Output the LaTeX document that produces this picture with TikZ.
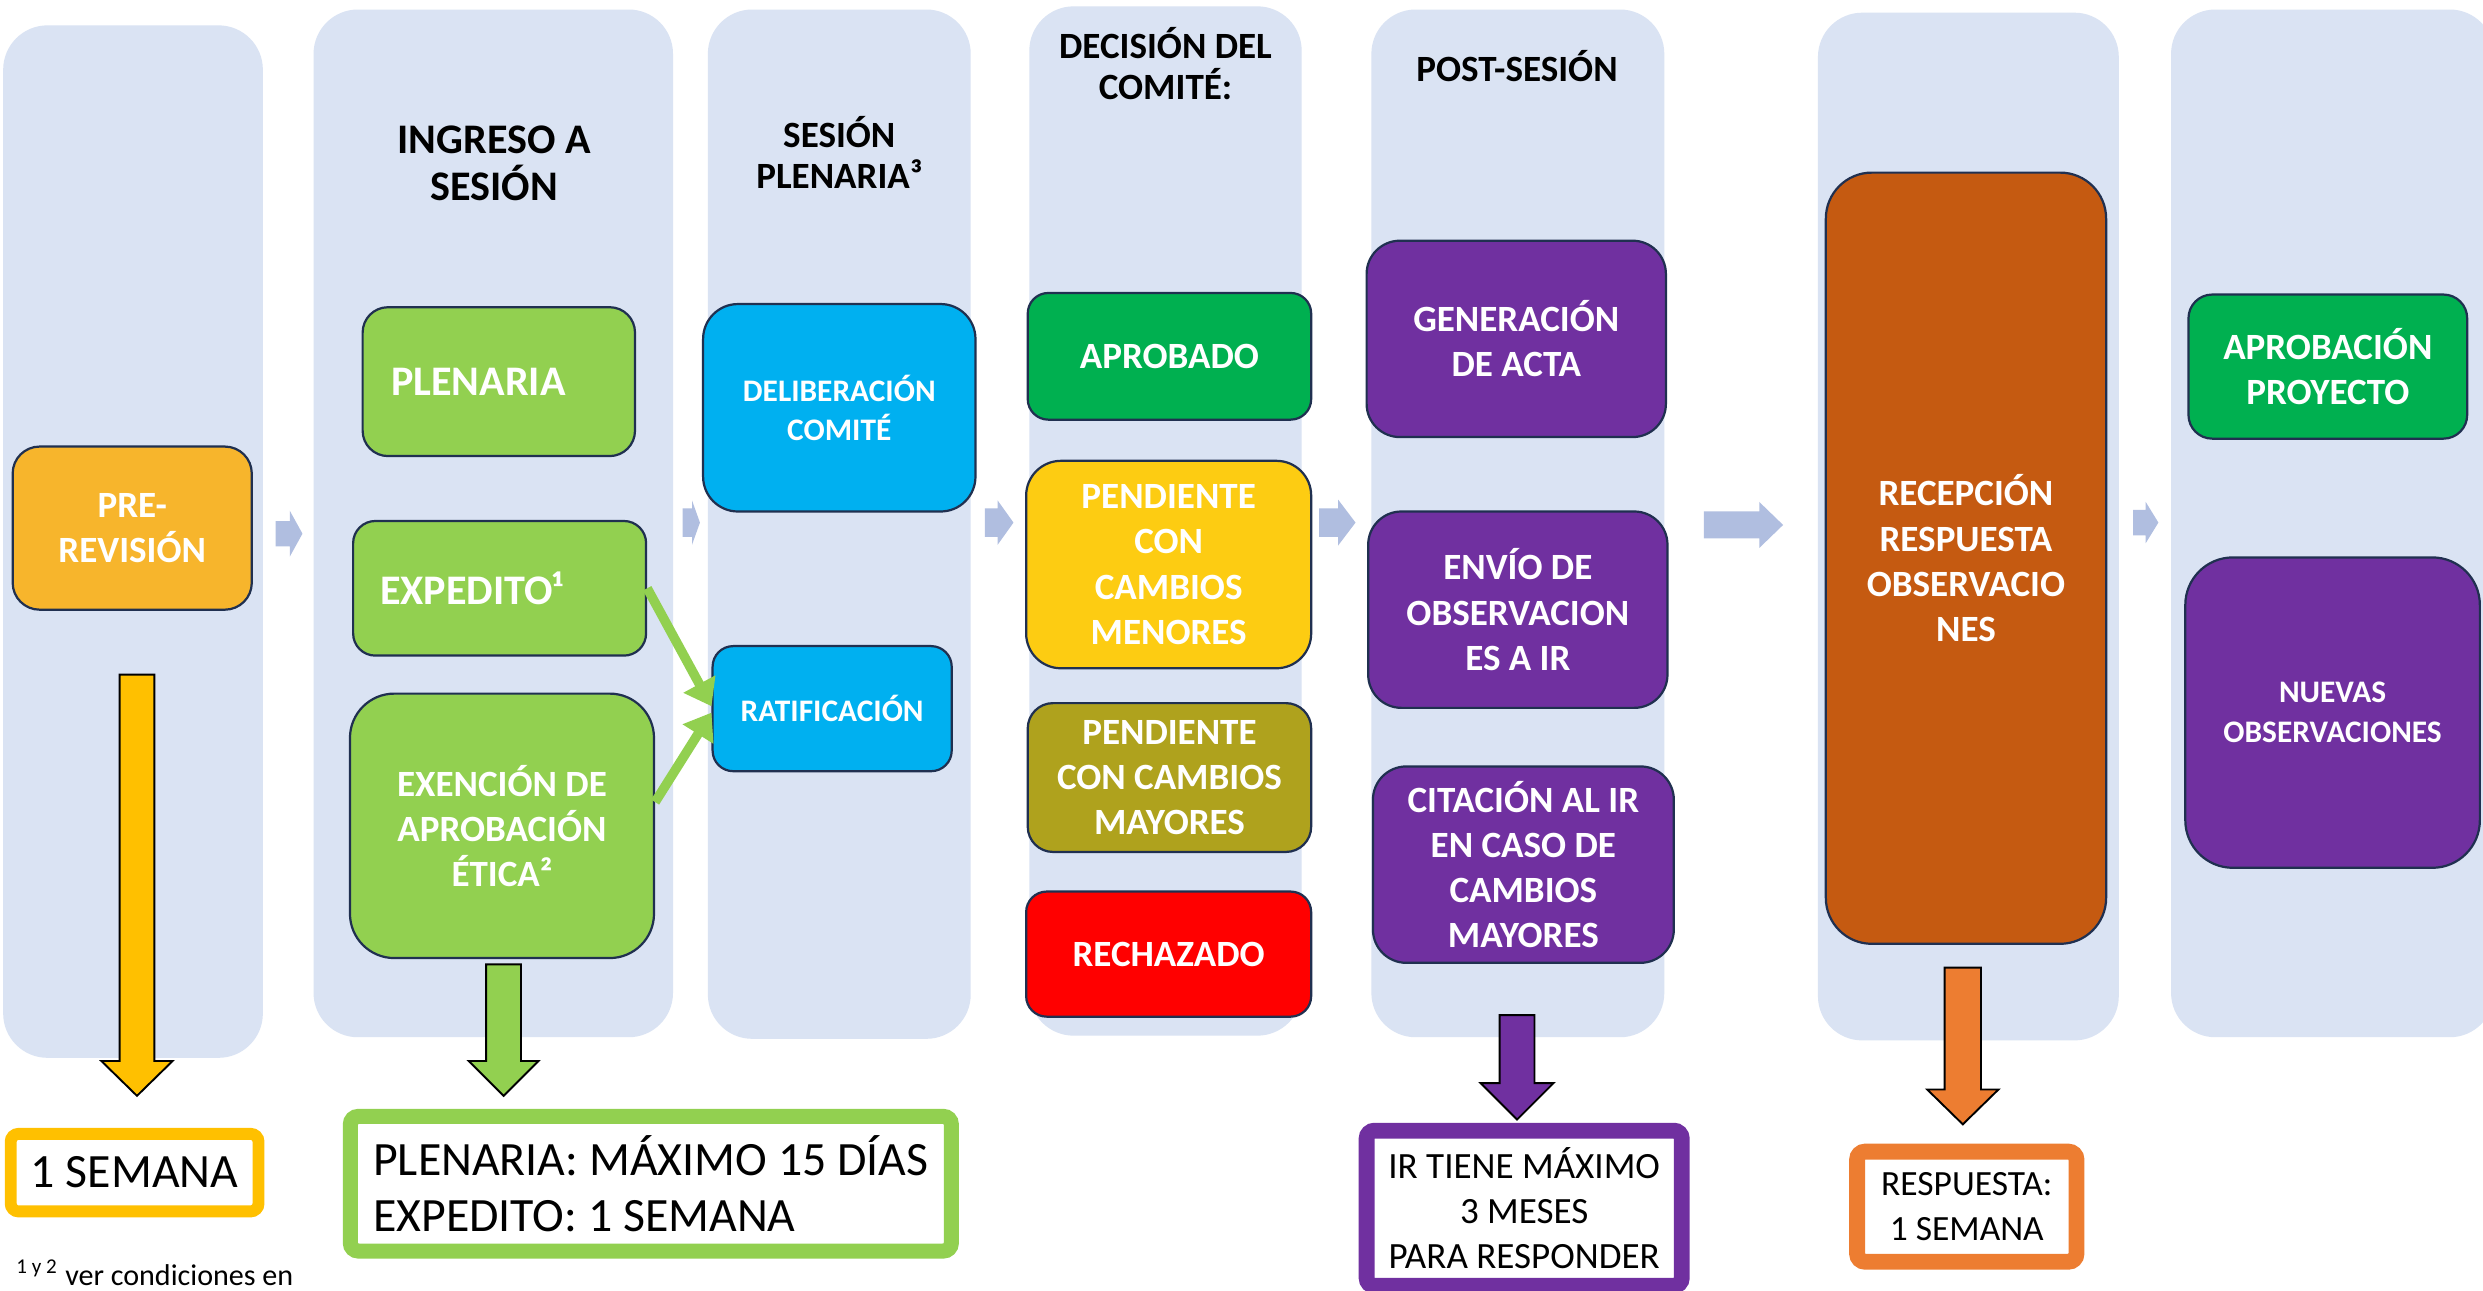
\documentclass[tikz,border=0pt]{standalone}
\usepackage{fontspec}
\setmainfont{Carlito}
\usetikzlibrary{arrows.meta}

\definecolor{laneblue}{HTML}{DAE3F3}
\definecolor{flowblue}{HTML}{B0BEE0}
\definecolor{edgeblue}{HTML}{203050}
\definecolor{preorange}{HTML}{F7B52C}
\definecolor{limegreen}{HTML}{92D050}
\definecolor{skyblue}{HTML}{00B0F0}
\definecolor{okgreen}{HTML}{00B050}
\definecolor{pendyellow}{HTML}{FDCC12}
\definecolor{olive}{HTML}{AFA21D}
\definecolor{alertred}{HTML}{FF0000}
\definecolor{violet}{HTML}{7030A0}
\definecolor{rust}{HTML}{C55A11}
\definecolor{gold}{HTML}{FFC000}
\definecolor{tangerine}{HTML}{ED7D31}

\tikzset{
  lane/.style={fill=laneblue, rounded corners=14pt, inner sep=0pt},
  lanetitle/.style={align=center, inner sep=0pt, font=\bfseries\fontsize{11.7}{13}\selectfont},
  stepbox/.style={draw=edgeblue, line width=0.7pt, rounded corners=8pt, inner sep=0pt,
    align=center, text=white, font=\bfseries\fontsize{11.7}{14.25}\selectfont},
  notebox/.style={fill=white, rounded corners=2.5pt, inner sep=0pt, align=center, text=black},
  flowarrow/.style={fill=flowblue},
  droparrow/.style={draw=black, line width=0.6pt},
  feed/.style={draw=limegreen, line width=3pt, -{Triangle[width=11pt,length=8pt]}}
}

\begin{document}
\frenchspacing
\begin{tikzpicture}[x=0.5pt, y=-0.5pt]
\path[use as bounding box, fill=white] (0,0) rectangle (1568,815);
\clip (0,0) rectangle (1568,815);

% columns
\node[lane, minimum width=82pt, minimum height=326pt] (lanepre) at (84,342) {};
\node[lane, minimum width=113.5pt, minimum height=324.5pt] (laneingreso) at (311.5,330.5) {};
\node[lane, minimum width=83pt, minimum height=325pt] (lanesesion) at (530,331) {};
\node[lane, minimum width=86pt, minimum height=325pt] (lanedecision) at (736,329) {};
\node[lane, minimum width=92.5pt, minimum height=324.5pt] (lanepost) at (958.5,330.5) {};
\node[lane, minimum width=95pt, minimum height=324.5pt] (lanerecep) at (1243,332.5) {};
\node[lane, minimum width=102pt, minimum height=324.5pt] (lanefinal) at (1473,330.5) {};

\node[lanetitle, font=\bfseries\fontsize{13.3}{15}\selectfont] (ttlingreso) at (312,103) {INGRESO A\\SESIÓN};
\node[lanetitle] (ttlsesion) at (530,96) {SESIÓN\\PLENARIA³};
\node[lanetitle] (ttldecision) at (736,40) {DECISIÓN DEL\\COMITÉ:};
\node[lanetitle] (ttlpost) at (958,42) {POST-SESIÓN};

% arrows between columns
\foreach \xa/\xb/\xc/\yc/\hs/\hh in {174/183/191/337/8/14.5, 431/437/442/330/9/14,
    622/630/640/330/9/14, 833/845/856/330/9/14.5, 1076/1111/1126/331.5/8.5/14.5,
    1347/1355/1363/330/8/13}
  \fill[flowarrow] (\xa,\yc-\hs) -- (\xb,\yc-\hs) -- (\xb,\yc-\hh) -- (\xc,\yc)
    -- (\xb,\yc+\hh) -- (\xb,\yc+\hs) -- (\xa,\yc+\hs) -- cycle;

% steps
\node[stepbox, fill=preorange, minimum width=75.5pt, minimum height=51.5pt, rounded corners=8.5pt] (prerev) at (83.5,333.5) {PRE-\\REVISIÓN};

\node[stepbox, fill=limegreen, minimum width=86pt, minimum height=47pt, text width=68pt, inner xsep=9pt, align=left,
  font=\bfseries\fontsize{13.3}{15}\selectfont] (plenaria) at (315,241) {PLENARIA};
\node[stepbox, fill=limegreen, minimum width=92.5pt, minimum height=42.5pt, text width=75.5pt, inner xsep=8.5pt, align=left,
  rounded corners=7pt, font=\bfseries\fontsize{13.3}{15}\selectfont] (expedito) at (315.5,371.5) {EXPEDITO¹};
\node[stepbox, fill=limegreen, minimum width=96pt, minimum height=83.5pt, rounded corners=14pt] (exencion) at (317,521.5) {EXENCIÓN DE\\APROBACIÓN\\ÉTICA²};

\node[stepbox, fill=skyblue, minimum width=86pt, minimum height=65.5pt, rounded corners=11pt,
  font=\bfseries\fontsize{9.9}{12.5}\selectfont] (deliberacion) at (530,257.5) {DELIBERACIÓN\\COMITÉ};
\node[stepbox, fill=skyblue, minimum width=75.5pt, minimum height=39.5pt, rounded corners=6.5pt,
  font=\bfseries\fontsize{9.9}{12.5}\selectfont] (ratificacion) at (525.5,447.5) {RATIFICACIÓN};

\node[stepbox, fill=okgreen, minimum width=89.5pt, minimum height=40pt, rounded corners=6.5pt] (aprobado) at (738.5,225) {APROBADO};
\node[stepbox, fill=pendyellow, minimum width=90pt, minimum height=65.5pt, rounded corners=11pt] (menores) at (738,356.5) {PENDIENTE\\CON\\CAMBIOS\\MENORES};
\node[stepbox, fill=olive, minimum width=89.5pt, minimum height=47pt] (mayores) at (738.5,491) {PENDIENTE\\CON CAMBIOS\\MAYORES};
\node[stepbox, fill=alertred, minimum width=90pt, minimum height=39.5pt, rounded corners=6.5pt] (rechazado) at (738,602.5) {RECHAZADO};

\node[stepbox, fill=violet, minimum width=94.5pt, minimum height=62pt, rounded corners=10.5pt] (acta) at (957.5,214) {GENERACIÓN\\DE ACTA};
\node[stepbox, fill=violet, minimum width=94.5pt, minimum height=62pt, rounded corners=10.5pt] (envio) at (958.5,385) {ENVÍO DE\\OBSERVACION\\ES A IR};
\node[stepbox, fill=violet, minimum width=95pt, minimum height=62pt, rounded corners=10.5pt] (citacion) at (962,546) {CITACIÓN AL IR\\EN CASO DE\\CAMBIOS\\MAYORES};

\node[stepbox, fill=rust, minimum width=88.5pt, minimum height=243.5pt, rounded corners=14.5pt] (recepcion) at (1241.5,352.5) {RECEPCIÓN\\RESPUESTA\\OBSERVACIO\\NES};

\node[stepbox, fill=okgreen, minimum width=88pt, minimum height=45.5pt, rounded corners=7.5pt] (aprobproy) at (1470,231.5) {APROBACIÓN\\PROYECTO};
\node[stepbox, fill=violet, minimum width=93pt, minimum height=98pt, rounded corners=15pt,
  font=\bfseries\fontsize{9.9}{12.5}\selectfont] (nuevas) at (1473,450) {NUEVAS\\OBSERVACIONES};

\draw[feed] (expedito.east) -- ([yshift=0.75pt]ratificacion.west);
\draw[feed] ([yshift=7.5pt]exencion.east) -- ([yshift=-1.25pt]ratificacion.west);

% time arrows
\foreach \cx/\yt/\yh/\yp/\sw/\hw/\col in {86.5/426/670/692/11/22.5/gold, 318/609/670/692/11/22/limegreen,
    958/641/684/707/11/23/violet, 1239.5/611/688/710/11.5/22.5/tangerine}
  \filldraw[droparrow, fill=\col] (\cx-\sw,\yt) -- (\cx+\sw,\yt) -- (\cx+\sw,\yh) -- (\cx+\hw,\yh)
    -- (\cx,\yp) -- (\cx-\hw,\yh) -- (\cx-\sw,\yh) -- cycle;

% times
\node[notebox, draw=gold, line width=3.75pt, minimum width=78.25pt, minimum height=24.5pt,
  font=\fontsize{15.1}{17}\selectfont] (tiempopre) at (85,740.5) {1 SEMANA};
\node[notebox, draw=limegreen, line width=4.75pt, minimum width=189.75pt, minimum height=42.5pt,
  align=left, font=\fontsize{15.1}{17.5}\selectfont] (tiempoingreso) at (411,747.5)
  {PLENARIA: MÁXIMO 15 DÍAS\\EXPEDITO: 1 SEMANA};
\node[notebox, draw=violet, line width=5pt, minimum width=99.5pt, minimum height=49pt,
  font=\fontsize{11.7}{14.2}\selectfont] (tiempopost) at (962.5,763) {IR TIENE MÁXIMO\\3 MESES\\PARA RESPONDER};
\node[notebox, draw=tangerine, line width=5pt, minimum width=69.25pt, minimum height=34.75pt,
  font=\fontsize{11.2}{14.25}\selectfont] (tiemporecep) at (1242,762) {RESPUESTA:\\1 SEMANA};

\node[anchor=base west, inner sep=0pt, font=\fontsize{9.5}{11}\selectfont] (nota) at (10,812)
  {\textsuperscript{1 y 2} ver condiciones en};
\end{tikzpicture}
\end{document}
